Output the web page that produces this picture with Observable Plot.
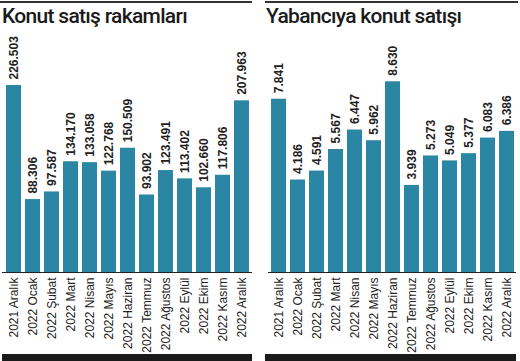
<!DOCTYPE html>
<html>
<head>
<meta charset="utf-8">
<script src="https://cdn.jsdelivr.net/npm/d3@7"></script>
<script src="https://cdn.jsdelivr.net/npm/@observablehq/plot@0.6"></script>
<style>
  html, body { margin: 0; padding: 0; background: #fff; }
  body { width: 520px; height: 361px; position: relative; overflow: hidden; }
  .panel { position: absolute; top: 0; }
  .topline { position: absolute; top: 1px; height: 1.5px; background: #333; }
  .title { position: absolute; top: 4px; font-family: Roboto, sans-serif; font-weight: 500; font-size: 21px; letter-spacing: -0.7px; color: #1a1a1a; white-space: nowrap; }
  .chart { position: absolute; top: 32px; }
  .bottombar { position: absolute; top: 354px; height: 7px; background: #1a1a1a; }
</style>
</head>
<body>
<div id="root"></div>
<script>
const months = ["2021 Aralık","2022 Ocak","2022 Şubat","2022 Mart","2022 Nisan","2022 Mayıs","2022 Haziran","2022 Temmuz","2022 Ağustos","2022 Eylül","2022 Ekim","2022 Kasım","2022 Aralık"];
const totalSales = [226503, 88306, 97587, 134170, 133058, 122768, 150509, 93902, 123491, 113402, 102660, 117806, 207963];
const foreignSales = [7841, 4186, 4591, 5567, 6447, 5962, 8630, 3939, 5273, 5049, 5377, 6083, 6386];
const titles = ["Konut satış rakamları", "Yabancıya konut satışı"];

const fmt = v => d3.format(",")(v).replace(/,/g, ".");
const barColor = "#2a86a2";

function addEl(cls, style, text) {
  const d = document.createElement("div");
  d.className = cls;
  Object.assign(d.style, style);
  if (text) d.textContent = text;
  document.body.appendChild(d);
  return d;
}

function makeChart(values, width, yMax) {
  const data = months.map((m, i) => ({month: m, value: values[i]}));
  return Plot.plot({
    width, height: 322,
    marginLeft: 0, marginRight: 0, marginTop: 20, marginBottom: 82,
    style: {fontFamily: "'Liberation Sans', Arial, sans-serif", fontSize: "12px", color: "#222", background: "transparent"},
    x: {domain: months, paddingInner: 0.23, paddingOuter: 0, label: null},
    y: {domain: [0, yMax], axis: null},
    marks: [
      Plot.barY(data, {x: "month", y: "value", fill: barColor}),
      Plot.ruleY([0], {stroke: "#222", strokeWidth: 1}),
      Plot.text(data, {x: "month", y: "value", text: d => fmt(d.value), rotate: -90, textAnchor: "start", lineAnchor: "middle", dy: -6, fontWeight: "bold", fontSize: 12, fill: "#222"}),
      Plot.axisX({tickRotate: -90, tickSize: 0, tickPadding: 5, fontSize: 12, label: null, fill: "#222"})
    ]
  });
}

// Left panel
addEl("topline", {left: "0px", width: "252px"});
addEl("title", {left: "2px"}, titles[0]);
const c1 = addEl("chart", {left: "2px"});
c1.appendChild(makeChart(totalSales, 250, 266500));
addEl("bottombar", {left: "2px", width: "250px"});

// Right panel
addEl("topline", {left: "265px", width: "253px"});
addEl("title", {left: "266px"}, titles[1]);
const c2 = addEl("chart", {left: "268px"});
c2.appendChild(makeChart(foreignSales, 248, 9955));
addEl("bottombar", {left: "265px", width: "251px"});
</script>
</body>
</html>
